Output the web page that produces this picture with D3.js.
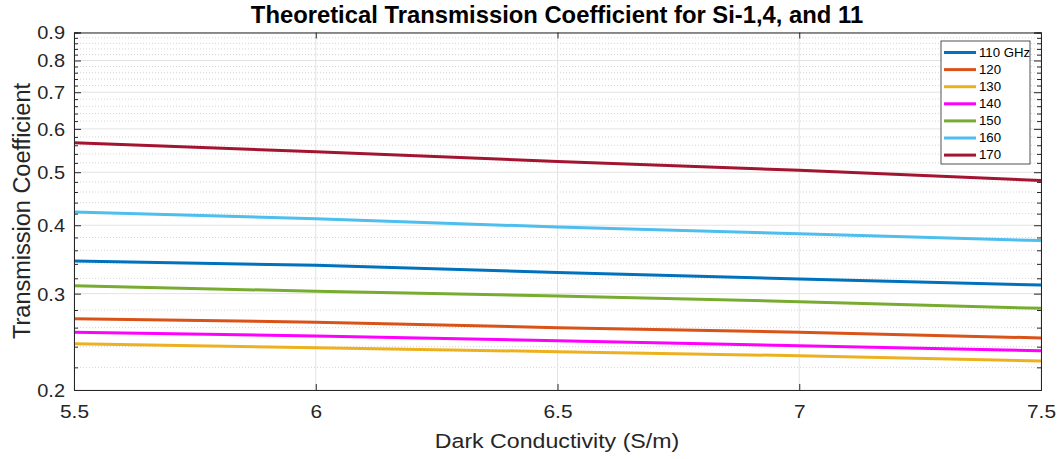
<!DOCTYPE html>
<html>
<head>
<meta charset="utf-8">
<script src="https://cdn.jsdelivr.net/npm/d3@7"></script>
<style>
    body { margin: 0; background: #fff; }
    text { font-family: "Liberation Sans", Arial, sans-serif; }
</style>
</head>
<body>
<svg id="chart" width="1060" height="459"></svg>
<script>
// conductivity values (S/m)
const conductivity = [5.5, 6, 6.5, 7, 7.5];

// transmission coefficient per frequency
const t110 = [0.344, 0.338, 0.328, 0.319, 0.311];
const t120 = [0.270, 0.266, 0.260, 0.255, 0.249];
const t130 = [0.243, 0.239, 0.235, 0.231, 0.226];
const t140 = [0.255, 0.251, 0.246, 0.241, 0.236];
const t150 = [0.310, 0.303, 0.297, 0.290, 0.282];
const t160 = [0.423, 0.411, 0.397, 0.386, 0.375];
const t170 = [0.566, 0.545, 0.523, 0.504, 0.483];

const seriesNames = ["110 GHz", "120", "130", "140", "150", "160", "170"];
const seriesColors = ["#0072BD", "#D95319", "#EDB120", "#FF00FF", "#77AC30", "#4DBEEE", "#A2142F"];

const xTicks = [5.5, 6, 6.5, 7, 7.5];
const yTicks = [0.2, 0.3, 0.4, 0.5, 0.6, 0.7, 0.8, 0.9];
const yMinorTicks = d3.range(0.2, 0.9001, 0.02).map(v => +v.toFixed(2));

const chart = {
    left: 74, right: 1041, top: 32.5, bottom: 390,

    draw: function () {
        let svg = d3.select("#chart");
        let series = [t110, t120, t130, t140, t150, t160, t170];
        let stretch = 1.13; // text in the picture is a bit wide

        let x = d3.scaleLinear().domain([5.5, 7.5]).range([this.left, this.right]);
        let y = d3.scaleLog().domain([0.2, 0.9]).range([this.bottom, this.top]);

        let minor = yMinorTicks.filter(v => !yTicks.some(t => Math.abs(t - v) < 1e-6));

        // minor dotted grid
        svg.append("g").selectAll("line")
            .data(minor)
            .enter().append("line")
            .attr("x1", this.left).attr("x2", this.right)
            .attr("y1", d => y(d)).attr("y2", d => y(d))
            .style("stroke", "#d4d4d4")
            .style("stroke-width", "1px")
            .style("stroke-dasharray", "1,2");

        // major grid
        let grid = svg.append("g");
        grid.selectAll("line.gy")
            .data(yTicks)
            .enter().append("line")
            .attr("class", "gy")
            .attr("x1", this.left).attr("x2", this.right)
            .attr("y1", d => y(d)).attr("y2", d => y(d))
            .style("stroke", "#e3e3e3");
        grid.selectAll("line.gx")
            .data(xTicks)
            .enter().append("line")
            .attr("class", "gx")
            .attr("x1", d => x(d)).attr("x2", d => x(d))
            .attr("y1", this.top).attr("y2", this.bottom)
            .style("stroke", "#e3e3e3");

        // lines
        let line = d3.line()
            .x((d, i) => x(conductivity[i]))
            .y(d => y(d));

        svg.append("g").selectAll("path")
            .data(series)
            .enter().append("path")
            .attr("d", line)
            .style("fill", "none")
            .style("stroke", (d, i) => seriesColors[i])
            .style("stroke-width", "3px");

        // axes box with ticks on all sides
        let axisColor = "#262626";
        let bottomAxis = svg.append("g")
            .attr("transform", "translate(0," + this.bottom + ")")
            .call(d3.axisBottom(x).tickValues(xTicks).tickSize(-6).tickPadding(0).tickFormat(d3.format("")));
        svg.append("g")
            .attr("transform", "translate(0," + this.top + ")")
            .call(d3.axisTop(x).tickValues(xTicks).tickSize(-6).tickFormat(""));
        let leftAxis = svg.append("g")
            .attr("transform", "translate(" + this.left + ",0)")
            .call(d3.axisLeft(y).tickValues(yTicks).tickSize(-7).tickFormat(d3.format(".1f")));
        svg.append("g")
            .attr("transform", "translate(" + this.right + ",0)")
            .call(d3.axisRight(y).tickValues(yTicks).tickSize(-7).tickFormat(""));

        // minor ticks on y sides
        svg.append("g")
            .attr("transform", "translate(" + this.left + ",0)")
            .call(d3.axisLeft(y).tickValues(minor).tickSize(-4).tickFormat(""));
        svg.append("g")
            .attr("transform", "translate(" + this.right + ",0)")
            .call(d3.axisRight(y).tickValues(minor).tickSize(-4).tickFormat(""));

        svg.selectAll(".domain, .tick line").style("stroke", axisColor);
        svg.selectAll(".tick text").style("fill", axisColor);

        bottomAxis.selectAll(".tick text")
            .style("font-size", "18.5px")
            .attr("y", 28)
            .attr("dy", null)
            .attr("transform", "scale(" + stretch + ",1)");

        leftAxis.selectAll(".tick text")
            .style("font-size", "17.7px")
            .attr("x", -9 / stretch)
            .attr("dy", "0.36em")
            .attr("transform", "scale(" + stretch + ",1)");

        // axis labels
        svg.append("text")
            .attr("transform", "translate(557,448) scale(" + stretch + ",1)")
            .attr("text-anchor", "middle")
            .style("font-size", "20.5px")
            .style("fill", axisColor)
            .text("Dark Conductivity (S/m)");

        svg.append("text")
            .attr("transform", "translate(30,211) rotate(-90)")
            .attr("text-anchor", "middle")
            .style("font-size", "23.5px")
            .style("fill", axisColor)
            .text("Transmission Coefficient");

        svg.append("text")
            .attr("x", 557).attr("y", 23)
            .attr("text-anchor", "middle")
            .style("font-size", "23.8px")
            .style("font-weight", "bold")
            .style("fill", "#000")
            .text("Theoretical Transmission Coefficient for Si-1,4, and 11");

        // legend
        let legend = svg.append("g").attr("transform", "translate(941,41)");
        legend.append("rect")
            .attr("width", 89).attr("height", 123)
            .style("fill", "#fff")
            .style("stroke", "#262626")
            .style("stroke-width", "0.8px");
        let item = legend.selectAll("g")
            .data(seriesNames)
            .enter().append("g")
            .attr("transform", (d, i) => "translate(0," + (11.5 + i * 17.1) + ")");
        item.append("line")
            .attr("x1", 3).attr("x2", 35)
            .style("stroke", (d, i) => seriesColors[i])
            .style("stroke-width", "3px");
        item.append("text")
            .attr("x", 38 / 1.1).attr("dy", "0.36em")
            .attr("transform", "scale(1.1,1)")
            .style("font-size", "12px")
            .style("fill", "#000")
            .text(d => d);
    }
}

chart.draw();
</script>
</body>
</html>
